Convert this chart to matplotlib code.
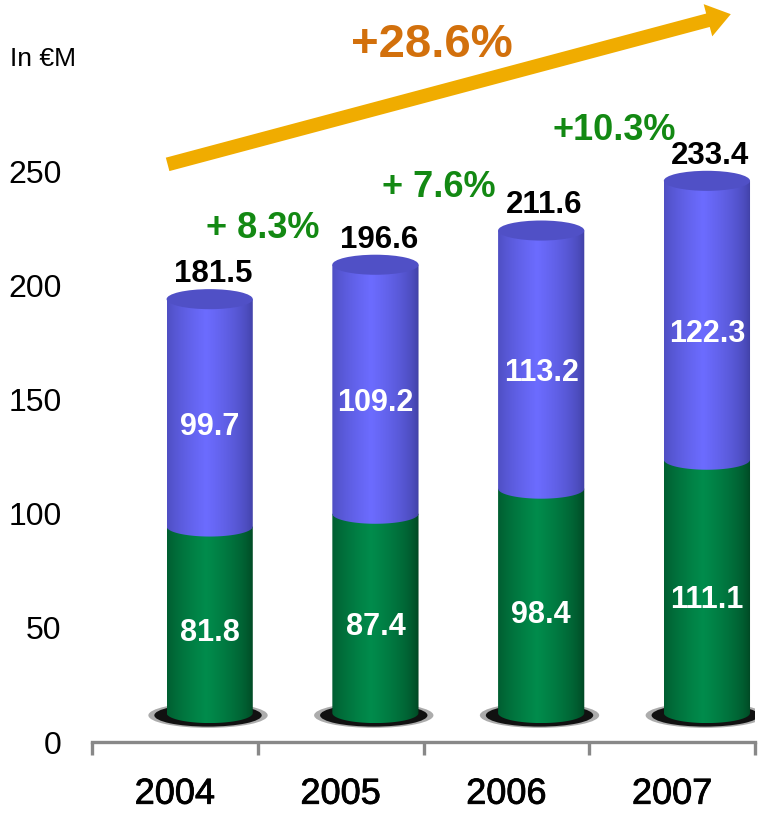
import numpy as np
import matplotlib
matplotlib.use("Agg")
import matplotlib.pyplot as plt
import matplotlib.patheffects as pe
from matplotlib.path import Path
from matplotlib.patches import PathPatch, Ellipse, FancyArrowPatch
from matplotlib.colors import to_rgb

plt.rcParams['font.family'] = ['Liberation Sans', 'DejaVu Sans']

years = ['2004', '2005', '2006', '2007']
lower = [81.8, 87.4, 98.4, 111.1]     # green segment
upper = [99.7, 109.2, 113.2, 122.3]   # blue segment
totals = [181.5, 196.6, 211.6, 233.4]
growth = ['+ 8.3%', '+ 7.6%', '+10.3%']
overall = '+28.6%'

# 3d look: cylinders sit back and to the right of the category slot
depth_dx = 0.21
base = 12.7
bar_w = 0.52
ell_h = 4.4   # half height of the elliptical caps, in data units


def side_colors(dark, light, n=200):
    t = np.linspace(0, 1, n)
    w = np.clip(1 - np.abs(t - 0.45) / 0.55, 0, 1) ** 0.55
    d = np.array(to_rgb(dark))
    l = np.array(to_rgb(light))
    return (d[None, :] * (1 - w[:, None]) + l[None, :] * w[:, None])[None, :, :]


def segment_path(xc, y0, y1):
    x0, x1 = xc - bar_w / 2, xc + bar_w / 2
    th = np.linspace(np.pi, 2 * np.pi, 60)
    xs = xc + bar_w / 2 * np.cos(th)
    ys = y0 + ell_h * np.sin(th)
    verts = list(zip(xs, ys)) + [(x1, y1), (x0, y1), (x0, y0)]
    codes = [Path.MOVETO] + [Path.LINETO] * (len(verts) - 2) + [Path.CLOSEPOLY]
    return Path(verts, codes)


def draw_segment(ax, xc, y0, y1, grad):
    patch = PathPatch(segment_path(xc, y0, y1), facecolor='none', edgecolor='none')
    ax.add_patch(patch)
    im = ax.imshow(grad, extent=[xc - bar_w / 2, xc + bar_w / 2, y0 - ell_h, y1],
                   aspect='auto', interpolation='bilinear', zorder=3)
    im.set_clip_path(patch)


fig = plt.figure(figsize=(7.69, 8.14), dpi=100)
ax = fig.add_axes([92 / 769, 72 / 814, 663 / 769, 742 / 814])
ax.set_xlim(-0.5, 3.5)
ax.set_ylim(0, 325.4)

green_grad = side_colors('#00401f', '#008c4c')
blue_grad = side_colors('#3c3c9c', '#6c6cff')

for i in range(len(years)):
    xc = i + depth_dx
    g_top = base + lower[i]
    b_top = g_top + upper[i]

    # soft shadow under the base
    for sc, a in [(1.0, 0.35), (0.9, 1.0)]:
        ax.add_patch(Ellipse((xc - 0.01, base - 1.0), 0.72 * sc, 11.0 * sc,
                             facecolor='#111111', edgecolor='none', alpha=a, zorder=2))

    draw_segment(ax, xc, base, g_top, green_grad)
    draw_segment(ax, xc, g_top, b_top, blue_grad)
    ax.add_patch(Ellipse((xc, b_top), bar_w, 2 * ell_h, facecolor='#5050c6',
                         edgecolor='none', zorder=4))

    ax.text(xc, base + lower[i] / 2 - 6, f'{lower[i]:.1f}', color='white',
            fontsize=22, fontweight='bold', ha='center', va='center', zorder=5)
    ax.text(xc, g_top + upper[i] / 2 - 6, f'{upper[i]:.1f}', color='white',
            fontsize=22, fontweight='bold', ha='center', va='center', zorder=5)
    ax.text(xc + 0.02, b_top + 11, f'{totals[i]:.1f}', color='black',
            fontsize=22.5, fontweight='bold', ha='center', va='center', zorder=5)

for i, g in enumerate(growth):
    ax.text(i + 0.5 + 0.03 + 0.06 * i, base + totals[i + 1] + 16 + 3 * i, g,
            color='#138913', fontsize=26, fontweight='bold', ha='center', va='center')

arrow = FancyArrowPatch((-0.06, 253), (3.37, 319.5),
                        arrowstyle='simple,tail_width=10,head_width=24,head_length=17',
                        mutation_scale=1, color='#f0ac00', lw=0, zorder=1)
ax.add_patch(arrow)
ax.text(1.55, 305.7, overall, color='#d2700c', fontsize=34, fontweight='bold',
        ha='center', va='center')

ax.text(-0.5 - 82 / 165.75, 299.5, 'In €M', fontsize=19, ha='left', va='center',
        clip_on=False)

for s in ['left', 'right', 'top']:
    ax.spines[s].set_visible(False)
ax.spines['bottom'].set_color('#888888')
ax.spines['bottom'].set_linewidth(2.4)

ax.set_yticks([0, 50, 100, 150, 200, 250])
ax.tick_params(axis='y', length=0, labelsize=23, pad=22)
ax.set_xticks(range(len(years)))
ax.set_xticklabels(years)
ax.set_xticks([-0.5, 0.5, 1.5, 2.5, 3.5], minor=True)
ax.tick_params(axis='x', which='major', length=0, labelsize=26, pad=25)
# year labels: a touch heavier than regular weight
for lbl in ax.get_xticklabels():
    lbl.set_path_effects([pe.withStroke(linewidth=0.6, foreground='black')])
ax.tick_params(axis='x', which='minor', length=9, width=2.4, color='#888888',
               direction='out')

fig.savefig('out.png', dpi=100)
